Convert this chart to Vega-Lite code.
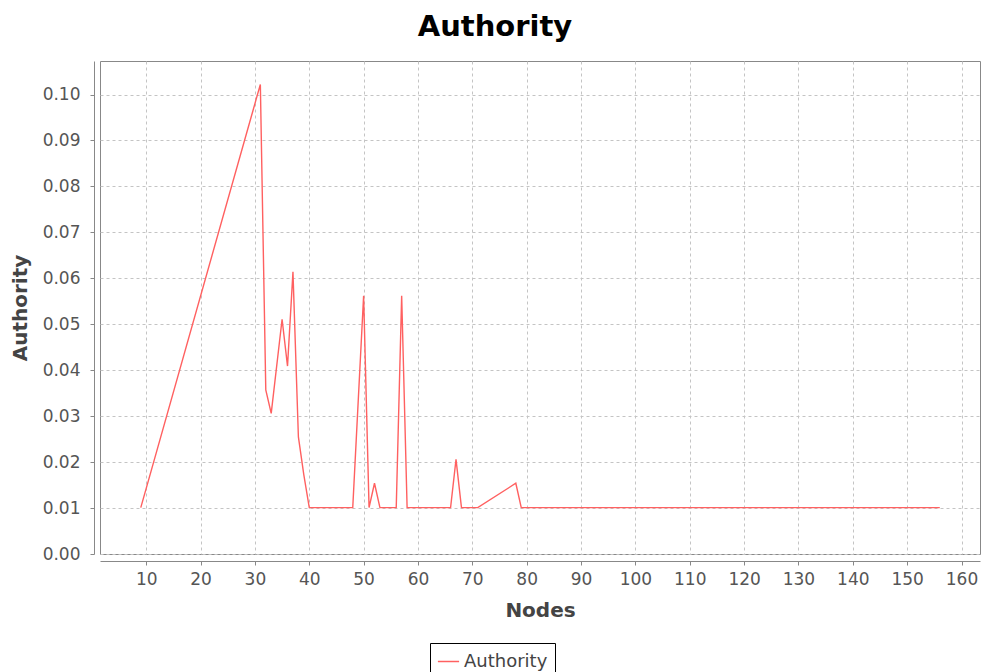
{
  "$schema": "https://vega.github.io/schema/vega-lite/v6.json",
  "width": 880,
  "height": 493,
  "autosize": {"type": "none"},
  "padding": {"left": 100, "top": 61, "right": 2, "bottom": 118},
  "background": "white",
  "title": {
    "text": "Authority",
    "font": "DejaVu Sans",
    "fontSize": 29,
    "fontWeight": "bold",
    "color": "#000000",
    "anchor": "middle",
    "dx": -45,
    "offset": 19
  },
  "data": {
    "values": [
      {"node": 9, "authority": 0.0101, "series": "Authority"},
      {"node": 31, "authority": 0.1022, "series": "Authority"},
      {"node": 32, "authority": 0.0357, "series": "Authority"},
      {"node": 33, "authority": 0.0306, "series": "Authority"},
      {"node": 35, "authority": 0.0511, "series": "Authority"},
      {"node": 36, "authority": 0.0409, "series": "Authority"},
      {"node": 37, "authority": 0.0614, "series": "Authority"},
      {"node": 38, "authority": 0.0255, "series": "Authority"},
      {"node": 39, "authority": 0.0172, "series": "Authority"},
      {"node": 40, "authority": 0.0101, "series": "Authority"},
      {"node": 48, "authority": 0.0101, "series": "Authority"},
      {"node": 50, "authority": 0.0562, "series": "Authority"},
      {"node": 51, "authority": 0.0101, "series": "Authority"},
      {"node": 52, "authority": 0.0154, "series": "Authority"},
      {"node": 53, "authority": 0.0101, "series": "Authority"},
      {"node": 56, "authority": 0.0101, "series": "Authority"},
      {"node": 57, "authority": 0.0562, "series": "Authority"},
      {"node": 58, "authority": 0.0101, "series": "Authority"},
      {"node": 66, "authority": 0.0101, "series": "Authority"},
      {"node": 67, "authority": 0.0206, "series": "Authority"},
      {"node": 68, "authority": 0.0101, "series": "Authority"},
      {"node": 71, "authority": 0.0101, "series": "Authority"},
      {"node": 78, "authority": 0.0154, "series": "Authority"},
      {"node": 79, "authority": 0.0101, "series": "Authority"},
      {"node": 156, "authority": 0.0101, "series": "Authority"}
    ]
  },
  "mark": {"type": "line", "strokeWidth": 1.4, "interpolate": "linear"},
  "encoding": {
    "x": {
      "field": "node",
      "type": "quantitative",
      "title": "Nodes",
      "scale": {"domain": [1.5, 163.4], "nice": false, "zero": false},
      "axis": {
        "values": [10, 20, 30, 40, 50, 60, 70, 80, 90, 100, 110, 120, 130, 140, 150, 160],
        "offset": 7,
        "labelPadding": 6,
        "titlePadding": 13
      }
    },
    "y": {
      "field": "authority",
      "type": "quantitative",
      "title": "Authority",
      "scale": {"domain": [0, 0.1073], "nice": false},
      "axis": {
        "values": [0, 0.01, 0.02, 0.03, 0.04, 0.05, 0.06, 0.07, 0.08, 0.09, 0.1],
        "format": ".2f",
        "offset": 6,
        "labelPadding": 10,
        "titlePadding": 12
      }
    },
    "color": {
      "field": "series",
      "type": "nominal",
      "scale": {"domain": ["Authority"], "range": ["#ff6060"]},
      "legend": {
        "title": null,
        "orient": "none",
        "legendX": 330,
        "legendY": 582,
        "strokeColor": "#000000",
        "padding": 7,
        "labelFont": "DejaVu Sans",
        "labelFontSize": 18,
        "labelColor": "#444444",
        "symbolType": "stroke",
        "symbolStrokeWidth": 1.5,
        "symbolSize": 450
      }
    }
  },
  "config": {
    "view": {"stroke": "#888888", "strokeWidth": 1},
    "axis": {
      "grid": true,
      "gridColor": "#c4c4c4",
      "gridDash": [3, 3],
      "gridWidth": 1,
      "domainColor": "#888888",
      "domainWidth": 1,
      "tickColor": "#888888",
      "tickSize": 4,
      "labelFont": "DejaVu Sans",
      "labelFontSize": 17,
      "labelColor": "#555555",
      "titleFont": "DejaVu Sans",
      "titleFontSize": 20,
      "titleFontWeight": "bold",
      "titleColor": "#444444"
    }
  }
}
